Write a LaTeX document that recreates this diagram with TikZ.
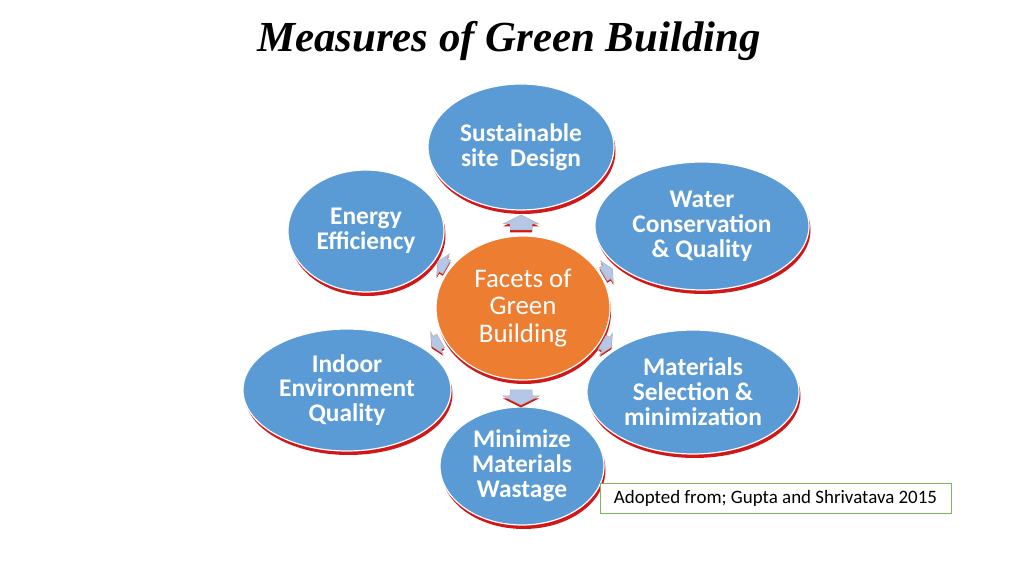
\documentclass[tikz,border=0pt]{standalone}
\usepackage{fontspec}
\setmainfont{Liberation Serif}
\newfontfamily\calib{Carlito}
\usetikzlibrary{shapes.geometric,shadows}
\definecolor{bblue}{HTML}{5B9BD5}
\definecolor{borange}{HTML}{ED7D31}
\definecolor{shred}{HTML}{D01818}
\definecolor{arrfill}{HTML}{B4C7E7}
\definecolor{boxgreen}{HTML}{7DB75A}
\tikzset{
  facet/.style={ellipse, draw=white, line width=1.2bp, fill=bblue, text=white,
    font=\calib\bfseries\fontsize{25.5}{25}\selectfont, align=center, inner sep=0pt,
    drop shadow={fill=shred, opacity=1, shadow xshift=1.5bp, shadow yshift=-4bp}},
  hub/.style={ellipse, draw=white, line width=1.2bp, fill=borange, text=white,
    font=\calib\fontsize{27}{27.5}\selectfont, align=center, inner sep=0pt,
    drop shadow={fill=shred, opacity=1, shadow xshift=1bp, shadow yshift=-4bp}},
  pics/blockarr/.style={code={
    \path[pic actions] (-6,-11) -- (0,-11) -- (0,-18) -- (9,0) -- (0,18) -- (0,11) -- (-6,11) -- cycle;}},
  arrshadow/.style={fill=shred},
  arrbody/.style={fill=arrfill, draw=gray!60, line width=0.5bp},
}
\begin{document}
\begin{tikzpicture}[x=1bp,y=1bp]
\useasboundingbox (0,0) rectangle (1024,576);
\fill[white] (0,0) rectangle (1024,576);
\node[font=\bfseries\itshape\fontsize{43}{46}\selectfont] (title) at (509,535) {Measures of Green Building};

\node[hub, minimum width=174bp, minimum height=144bp] (hub) at (523,268) {Facets of\\Green\\Building};
\node[facet, minimum width=186bp, minimum height=126bp] (site) at (521,429) {Sustainable\\site\ \ Design};
\node[facet, minimum width=214bp, minimum height=128bp] (water) at (702,350) {Water\\Conservation\\\& Quality};
\node[facet, minimum width=156bp, minimum height=122bp] (energy) at (366,345) {Energy\\Efficiency};
\node[facet, minimum width=208bp, minimum height=122bp] (indoor) at (347,186) {Indoor\\Environment\\Quality};
\node[facet, minimum width=212bp, minimum height=124bp] (mat) at (693,184) {Materials\\Selection \&\\minimization};
\node[facet, minimum width=164bp, minimum height=118bp] (waste) at (522,110) {Minimize\\Materials\\Wastage};

% block arrows from hub toward each facet
\pic[arrshadow, shift={(0,-2.5)}, rotate=90] at (521,352) {blockarr};
\pic[arrbody, rotate=90] (aup) at (521,352) {blockarr};
\pic[arrshadow, shift={(0,-2.5)}, rotate=-90] at (521,180) {blockarr};
\pic[arrbody, rotate=-90] (adown) at (521,180) {blockarr};
\pic[arrshadow, shift={(0,-2)}, rotate=150, scale=0.7] at (443,311) {blockarr};
\pic[arrbody, rotate=150, scale=0.7] (aul) at (443,311) {blockarr};
\pic[arrshadow, shift={(0,-2)}, rotate=30, scale=0.7] at (607,304) {blockarr};
\pic[arrbody, rotate=30, scale=0.7] (aur) at (607,304) {blockarr};
\pic[arrshadow, shift={(0,-2)}, rotate=210, scale=0.7] at (437,233) {blockarr};
\pic[arrbody, rotate=210, scale=0.7] (all) at (437,233) {blockarr};
\pic[arrshadow, shift={(0,-2)}, rotate=-30, scale=0.7] at (606,232) {blockarr};
\pic[arrbody, rotate=-30, scale=0.7] (alr) at (606,232) {blockarr};

\node[draw=boxgreen, line width=0.8bp, fill=white, minimum width=351bp, minimum height=30bp,
  font=\calib\fontsize{19}{21}\selectfont, inner sep=0pt] (src) at (775.5,78) {Adopted from; Gupta and Shrivatava 2015};
\end{tikzpicture}
\end{document}
